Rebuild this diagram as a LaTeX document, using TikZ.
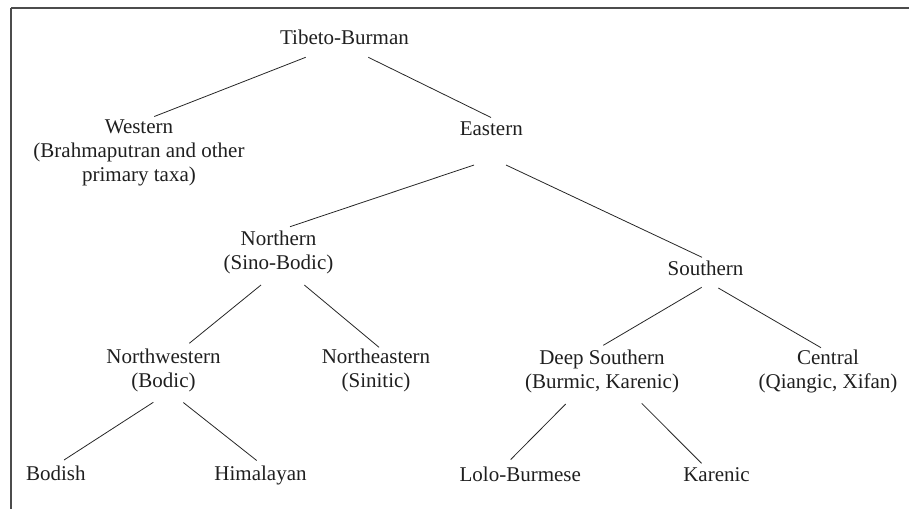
\documentclass[tikz,border=0pt]{standalone}
\usepackage{fontspec}
\setmainfont{Liberation Serif}
\usetikzlibrary{calc}
\begin{document}
\begin{tikzpicture}[x=1pt,y=-1pt,
  lbl/.style={inner sep=0pt,anchor=base,align=center,text=black!88,
    font=\fontsize{21}{24.2}\selectfont},
  edge/.style={line width=0.8pt,draw=black!85},
  frame/.style={line width=1.2pt,draw=black!70}]
\useasboundingbox (0,0) rectangle (909,509);
\draw[frame] (11,8) -- (909,8);
\draw[frame] (11,8) -- (11,509);
% base anchor = baseline of the last line
\node[lbl] (tb) at (344.5,44) {Tibeto-Burman};
\node[lbl] (w) at (139,181.7) {Western\\(Brahmaputran and other\\primary taxa)};
\node[lbl] (e) at (491.3,135) {Eastern};
\node[lbl] (n) at (278.5,269.9) {Northern\\(Sino-Bodic)};
\node[lbl] (s) at (705.5,275) {Southern};
\node[lbl] (nw) at (163.5,387.5) {Northwestern\\(Bodic)};
\node[lbl] (ne) at (376,387.5) {Northeastern\\(Sinitic)};
\node[lbl] (ds) at (602,388.8) {Deep Southern\\(Burmic, Karenic)};
\node[lbl] (c) at (828,388.8) {Central\\(Qiangic, Xifan)};
\node[lbl] (bo) at (55.8,480) {Bodish};
\node[lbl] (hi) at (260.5,480) {Himalayan};
\node[lbl] (lb) at (520.3,481) {Lolo-Burmese};
\node[lbl] (ka) at (716.5,481) {Karenic};
\draw[edge] ($(tb.base)+(-38.8,13.3)$) -- ($(w.base)+(15.3,-65.2)$);
\draw[edge] ($(tb.base)+(23.8,13.3)$) -- ($(e.base)+(-0.3,-17.5)$);
\draw[edge] ($(e.base)+(-17.3,30)$) -- ($(n.base)+(11.5,-43.2)$);
\draw[edge] ($(e.base)+(14.7,30)$) -- ($(s.base)+(-3.5,-17.7)$);
\draw[edge] ($(n.base)+(-17.5,15.1)$) -- ($(nw.base)+(25.8,-44.2)$);
\draw[edge] ($(n.base)+(25.8,15.1)$) -- ($(ne.base)+(3,-40.2)$);
\draw[edge] ($(s.base)+(-3.8,12.3)$) -- ($(ds.base)+(1.3,-43.5)$);
\draw[edge] ($(s.base)+(12.8,13)$) -- ($(c.base)+(-7,-41.1)$);
\draw[edge] ($(nw.base)+(-10.2,14.8)$) -- ($(bo.base)+(8.2,-20)$);
\draw[edge] ($(nw.base)+(19.8,15)$) -- ($(hi.base)+(-3.8,-19.5)$);
\draw[edge] ($(ds.base)+(-36.3,15.2)$) -- ($(lb.base)+(-9.6,-21.5)$);
\draw[edge] ($(ds.base)+(39.7,14.5)$) -- ($(ka.base)+(-15,-17.7)$);
\end{tikzpicture}
\end{document}
